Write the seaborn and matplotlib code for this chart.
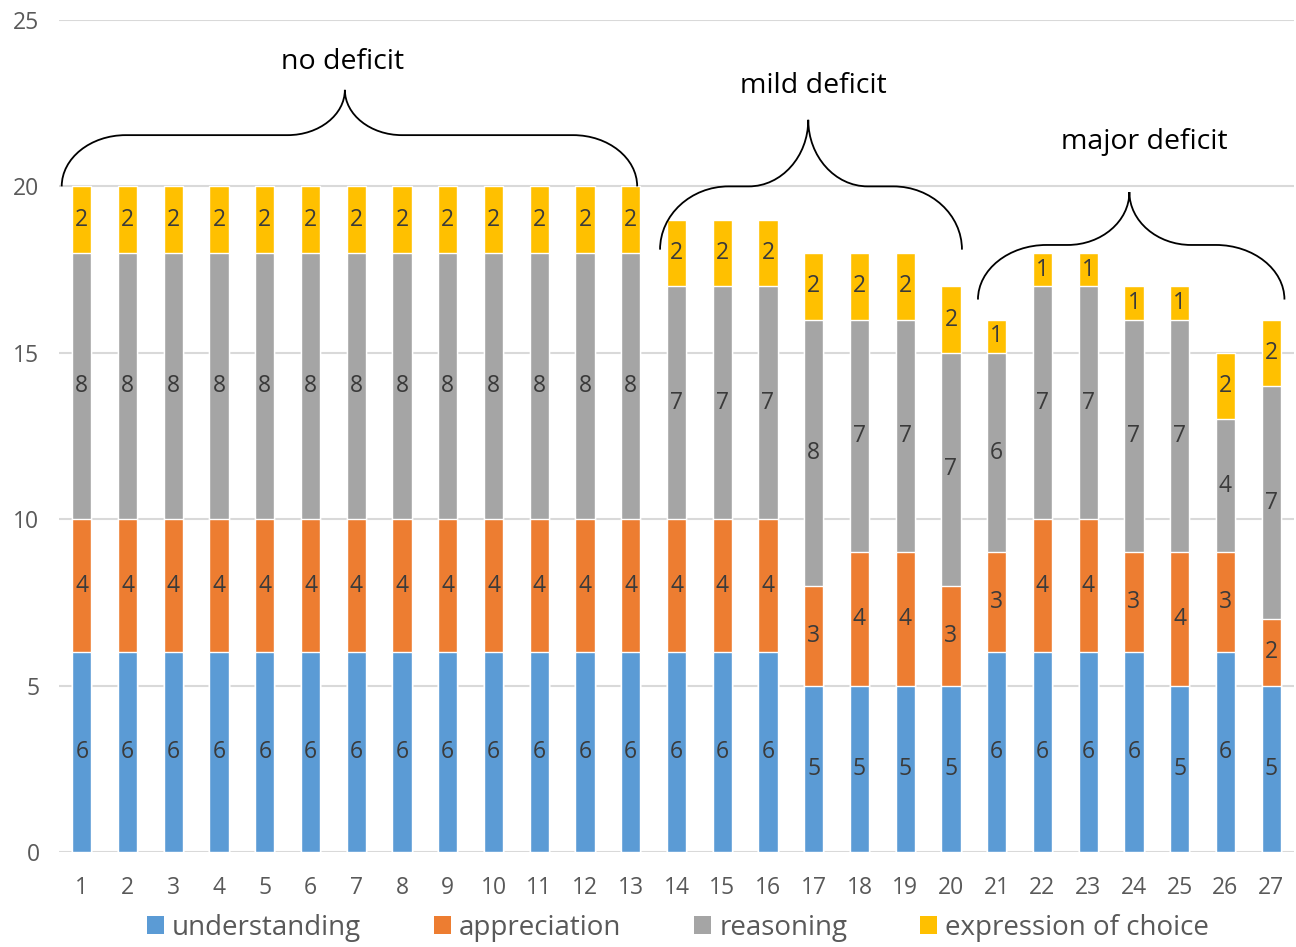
import matplotlib
matplotlib.use('Agg')
import matplotlib.pyplot as plt
import numpy as np
import pandas as pd
import seaborn as sns
from matplotlib.path import Path
from matplotlib.patches import PathPatch, Patch

sns.set_theme(style='white')
plt.rcParams['font.family'] = ['Open Sans', 'DejaVu Sans']

cases = [str(i) for i in range(1, 28)]
understanding = [6] * 13 + [6, 6, 6, 5, 5, 5, 5, 6, 6, 6, 6, 5, 6, 5]
appreciation = [4] * 13 + [4, 4, 4, 3, 4, 4, 3, 3, 4, 4, 3, 4, 3, 2]
reasoning = [8] * 13 + [7, 7, 7, 8, 7, 7, 7, 6, 7, 7, 7, 7, 4, 7]
choice = [2] * 13 + [2, 2, 2, 2, 2, 2, 2, 1, 1, 1, 1, 1, 2, 2]

components = ['understanding', 'appreciation', 'reasoning', 'expression of choice']
colors = ['#5B9BD5', '#ED7D31', '#A5A5A5', '#FFC000']

groups = ['no deficit', 'mild deficit', 'major deficit']

df = pd.DataFrame({'case': cases, 'understanding': understanding, 'appreciation': appreciation,
                   'reasoning': reasoning, 'expression of choice': choice})
cum = df[components].cumsum(axis=1)

fig = plt.figure(figsize=(12.96, 9.47), dpi=100)
ax = fig.add_axes([0.0455, 0.1003, 0.953, 0.8786])

# stacked bars: draw cumulative totals from the top segment down
for comp, col in reversed(list(zip(components, colors))):
    sns.barplot(x=df['case'], y=cum[comp], color=col, width=0.42, saturation=1,
                order=cases, ax=ax, zorder=3)

# segment labels
for i in range(len(cases)):
    base = 0
    for comp in components:
        v = df[comp].iloc[i]
        ax.text(i, base + v / 2, str(v), ha='center', va='center', fontsize=16.5,
                color='#3A3A3A', zorder=4)
        base += v

ax.set_ylim(0, 25)
ax.set_xlim(-0.5, len(cases) - 0.5)
ax.set_yticks(range(0, 26, 5))
ax.yaxis.grid(True, color='#D9D9D9', linewidth=1.5, zorder=0)
ax.set_axisbelow(True)
for s in ax.spines.values():
    s.set_visible(False)
ax.set_xlabel('')
ax.set_ylabel('')
ax.tick_params(axis='both', length=0, labelsize=16.5, labelcolor='#595959')
ax.tick_params(axis='x', pad=17)
ax.tick_params(axis='y', pad=14)

K = 0.55


def brace(x0, x1, xm, yb, yf, yt, r0, r1):
    verts = [
        (x0, yb),
        (x0, yb + K * (yf - yb)), (x0 + r0 * (1 - K), yf), (x0 + r0, yf),
        (xm - r1, yf),
        (xm - r1 * (1 - K), yf), (xm, yt - K * (yt - yf)), (xm, yt),
        (xm, yt - K * (yt - yf)), (xm + r1 * (1 - K), yf), (xm + r1, yf),
        (x1 - r0, yf),
        (x1 - r0 * (1 - K), yf), (x1, yb + K * (yf - yb)), (x1, yb),
    ]
    codes = [Path.MOVETO, Path.CURVE4, Path.CURVE4, Path.CURVE4, Path.LINETO,
             Path.CURVE4, Path.CURVE4, Path.CURVE4, Path.CURVE4, Path.CURVE4, Path.CURVE4,
             Path.LINETO, Path.CURVE4, Path.CURVE4, Path.CURVE4]
    ax.add_patch(PathPatch(Path(verts, codes), fill=False, lw=1.3, color='black',
                           zorder=5, clip_on=False))


brace(-0.44, 12.14, 5.75, 20.0, 21.54, 22.9, 1.4, 1.25)
brace(12.64, 19.24, 15.88, 18.1, 20.0, 22.0, 1.5, 1.3)
brace(19.59, 26.29, 22.9, 16.6, 18.24, 19.83, 1.5, 1.35)

for label, x, y in zip(groups, [5.69, 16.0, 23.22], [23.74, 23.02, 21.33]):
    ax.text(x, y, label, ha='center', va='center', fontsize=20.5, color='black')

handles = [Patch(facecolor=c, edgecolor='none') for c in colors]
fig.legend(handles, components, loc='lower center', bbox_to_anchor=(0.523, -0.021), ncol=4,
           frameon=False, fontsize=20, handlelength=0.62, handleheight=0.62,
           handletextpad=0.3, columnspacing=2.6, labelcolor='#595959')

fig.savefig('out.png', dpi=100)
